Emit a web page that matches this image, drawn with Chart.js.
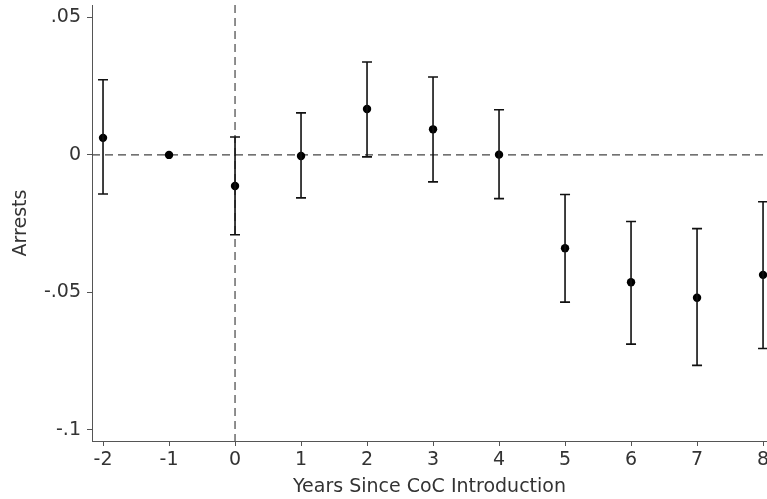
<!DOCTYPE html>
<html>
<head>
<meta charset="utf-8">
<script src="https://cdn.jsdelivr.net/npm/chart.js@4"></script>
<style>
  html, body { margin: 0; padding: 0; background: #fff; }
  #wrap { width: 767px; height: 499px; }
</style>
</head>
<body>
<div id="wrap"><canvas id="eventChart"></canvas></div>
<script>
// event-time and estimates
const years = [-2, -1, 0, 1, 2, 3, 4, 5, 6, 7, 8];
const estimates = [0.0062, 0, -0.0113, -0.0004, 0.0167, 0.0093, 0.0001, -0.0339, -0.0463, -0.0519, -0.0436];
const ciUpper = [0.0273, null, 0.0065, 0.0153, 0.0338, 0.0283, 0.0164, -0.0144, -0.0242, -0.0268, -0.0170];
const ciLower = [-0.0142, null, -0.0290, -0.0156, -0.0007, -0.0098, -0.0159, -0.0535, -0.0688, -0.0765, -0.0704];

const xTicks = [-2, -1, 0, 1, 2, 3, 4, 5, 6, 7, 8];
const yTicks = [0.05, 0, -0.05, -0.1];
const yTickLabels = ['.05', '0', '-.05', '-.1'];

Chart.defaults.font.family = '"DejaVu Sans", sans-serif';
Chart.defaults.font.size = 19;
Chart.defaults.color = '#333';

// dashed reference lines at y = 0 and x = 0
const refLines = {
  id: 'refLines',
  beforeDatasetsDraw(chart) {
    const { ctx, chartArea, scales: { x, y } } = chart;
    ctx.save();
    ctx.strokeStyle = '#444';
    ctx.lineWidth = 1.2;
    ctx.setLineDash([8, 5]);
    const y0 = y.getPixelForValue(0);
    ctx.beginPath();
    ctx.moveTo(chartArea.left, y0);
    ctx.lineTo(chartArea.right, y0);
    ctx.stroke();
    const x0 = x.getPixelForValue(0);
    ctx.beginPath();
    ctx.moveTo(x0, chartArea.top);
    ctx.lineTo(x0, chartArea.bottom);
    ctx.stroke();
    ctx.restore();
  }
};

// capped error bars from ciLower / ciUpper
const errorBars = {
  id: 'errorBars',
  afterDatasetsDraw(chart) {
    const { ctx, scales: { x, y } } = chart;
    ctx.save();
    ctx.strokeStyle = '#111';
    ctx.lineWidth = 1.6;
    ctx.setLineDash([]);
    years.forEach((yr, i) => {
      if (ciUpper[i] === null) return;
      const px = x.getPixelForValue(yr);
      const top = y.getPixelForValue(ciUpper[i]);
      const bot = y.getPixelForValue(ciLower[i]);
      ctx.beginPath();
      ctx.moveTo(px, top); ctx.lineTo(px, bot);
      ctx.moveTo(px - 5, top); ctx.lineTo(px + 5, top);
      ctx.moveTo(px - 5, bot); ctx.lineTo(px + 5, bot);
      ctx.stroke();
    });
    ctx.restore();
  }
};

new Chart(document.getElementById('eventChart'), {
  type: 'scatter',
  data: {
    datasets: [{
      data: years.map((yr, i) => ({ x: yr, y: estimates[i] })),
      pointRadius: 4.2,
      pointBackgroundColor: '#000',
      pointBorderColor: '#000',
      pointBorderWidth: 0
    }]
  },
  options: {
    responsive: true,
    maintainAspectRatio: false,
    animation: false,
    layout: { autoPadding: false, padding: { left: 0, top: 5, right: 0, bottom: 0 } },
    plugins: {
      legend: { display: false },
      tooltip: { enabled: false }
    },
    scales: {
      x: {
        type: 'linear',
        min: -2.167,
        max: 8.06,
        afterBuildTicks: s => { s.ticks = xTicks.map(v => ({ value: v })); },
        afterFit: s => { s.height = 58; s.paddingLeft = 0; s.paddingRight = 0; },
        ticks: { padding: 3, maxRotation: 0 },
        grid: { drawOnChartArea: false, tickLength: 5, color: '#555', lineWidth: 1 },
        border: { color: '#555', width: 1 },
        title: { display: true, text: 'Years Since CoC Introduction', padding: { top: 0, bottom: 1 } }
      },
      y: {
        type: 'linear',
        min: -0.104,
        max: 0.0545,
        afterBuildTicks: s => { s.ticks = yTicks.map(v => ({ value: v })); },
        afterFit: s => { s.width = 92; s.paddingTop = 0; s.paddingBottom = 0; },
        ticks: {
          padding: 6,
          callback: v => yTickLabels[yTicks.indexOf(v)] ?? ''
        },
        grid: { drawOnChartArea: false, tickLength: 5, color: '#555', lineWidth: 1 },
        border: { color: '#555', width: 1 },
        title: { display: true, text: 'Arrests', padding: { top: 9.5, bottom: 0 } }
      }
    }
  },
  plugins: [refLines, errorBars]
});
</script>
</body>
</html>
